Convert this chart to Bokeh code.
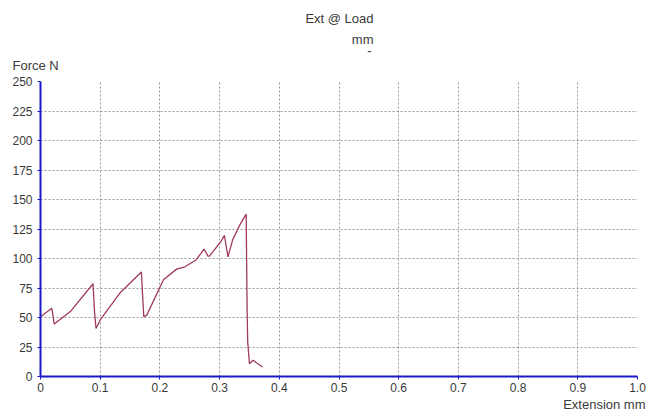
from bokeh.plotting import figure
from bokeh.models import FixedTicker, Range1d, Title
from bokeh.embed import file_html
from bokeh.resources import INLINE

ext_mm = [0.0, 0.019, 0.023, 0.05, 0.088, 0.0905, 0.093, 0.1, 0.133, 0.169, 0.173, 0.178,
          0.206, 0.228, 0.242, 0.261, 0.274, 0.2805, 0.283, 0.303, 0.308, 0.314, 0.322,
          0.333, 0.3445, 0.346, 0.347, 0.35, 0.356, 0.364, 0.372]
force_n = [50.7, 57.8, 44.4, 55.0, 78.6, 55.0, 40.7, 47.9, 70.7, 88.6, 50.7, 52.0,
           82.0, 91.0, 93.0, 99.0, 108.0, 102.0, 102.0, 115.0, 119.7, 101.4, 116.0,
           127.6, 137.6, 60.7, 30.0, 10.8, 13.7, 10.8, 8.0]

x_ticks = [0.0, 0.1, 0.2, 0.3, 0.4, 0.5, 0.6, 0.7, 0.8, 0.9, 1.0]
x_tick_labels = ["0", "0.1", "0.2", "0.3", "0.4", "0.5", "0.6", "0.7", "0.8", "0.9", "1.0"]
y_ticks = [0, 25, 50, 75, 100, 125, 150, 175, 200, 225, 250]

FONT = "Liberation Sans"
TXT = "#3a3a3a"
BLUE = "#1a1acc"

p = figure(width=649, height=411, output_backend="svg", toolbar_location=None,
           x_range=Range1d(0, 1.0), y_range=Range1d(0, 250),
           min_border_left=40, min_border_right=12, min_border_top=81, min_border_bottom=35)
p.outline_line_color = None
p.background_fill_color = "white"
p.border_fill_color = "white"

p.line(ext_mm, force_n, line_color="#a03c58", line_width=1.3)

for ax in (p.xaxis[0], p.yaxis[0]):
    ax.axis_line_color = BLUE
    ax.axis_line_width = 2
    ax.major_tick_line_color = BLUE
    ax.major_tick_out = 3
    ax.major_tick_in = 0
    ax.minor_tick_line_color = None
    ax.major_label_text_font = FONT
    ax.major_label_text_font_size = "12px"
    ax.major_label_text_color = TXT

p.xaxis.ticker = FixedTicker(ticks=x_ticks)
p.xaxis.major_label_overrides = {t: l for t, l in zip(x_ticks, x_tick_labels)}
p.xaxis.major_label_standoff = 3
p.yaxis.ticker = FixedTicker(ticks=y_ticks)
p.yaxis.major_label_standoff = 5

for g in (p.xgrid[0], p.ygrid[0]):
    g.grid_line_color = "#999999"
    g.grid_line_dash = "2 2"
    g.grid_line_width = 1


def mk_title(text, align, offset, standoff, line_height=0.9):
    return Title(text=text, align=align, offset=offset, standoff=standoff,
                 text_font=FONT, text_font_size="13px", text_font_style="normal",
                 text_color=TXT, text_line_height=line_height)


# above: first added sits nearest the frame
p.add_layout(mk_title("Force N", "left", -28, 17, 0.45), "above")
p.add_layout(mk_title("-", "right", 266, -15), "above")
p.add_layout(mk_title("mm", "right", 264, 2), "above")
p.add_layout(mk_title("Ext @ Load", "right", 264, 5), "above")
p.add_layout(mk_title("Extension mm", "right", -8, 0), "below")

open("out.html", "w").write(file_html(p, INLINE))
